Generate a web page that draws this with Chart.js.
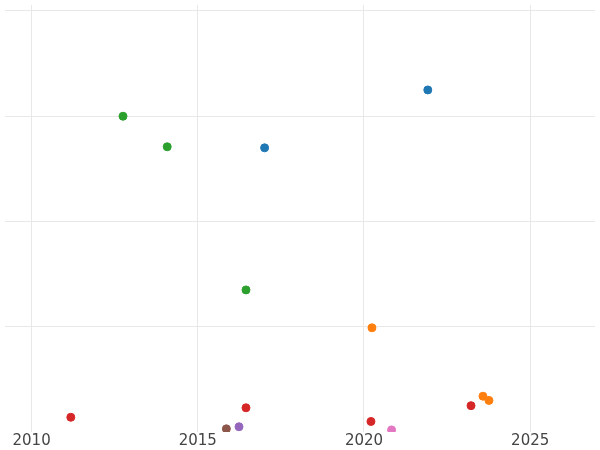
<!DOCTYPE html>
<html><head><meta charset="utf-8">
<script src="https://cdn.jsdelivr.net/npm/chart.js@4"></script>
<style>html,body{margin:0;padding:0;background:#fff}#w{width:600px;height:450px}</style>
</head><body><div id="w"><canvas id="c"></canvas></div>
<script>
const xTicks = [2010, 2015, 2020, 2025];
const blueX = [2021.92, 2017.01], blueY = [3.25, 2.70];
const greenX = [2012.75, 2014.08, 2016.45], greenY = [3.0, 2.71, 1.35];
const orangeX = [2020.24, 2023.58, 2023.76], orangeY = [0.99, 0.34, 0.30];
const redX = [2011.18, 2016.45, 2020.21, 2023.22], redY = [0.14, 0.23, 0.10, 0.25];
const brownX = [2015.86], brownY = [0.03];
const purpleX = [2016.24], purpleY = [0.05];
const pinkX = [2020.83], pinkY = [0.02];
const groups = [
  [blueX, blueY, '#1f77b4'], [greenX, greenY, '#2ca02c'], [orangeX, orangeY, '#ff7f0e'],
  [redX, redY, '#d62728'], [brownX, brownY, '#8c564b'], [purpleX, purpleY, '#9467bd'], [pinkX, pinkY, '#e377c2']
];
new Chart(document.getElementById('c'), {
  type: 'scatter',
  data: { datasets: groups.map(g => ({
    data: g[0].map((x, i) => ({x, y: g[1][i]})),
    backgroundColor: g[2], borderColor: g[2], pointRadius: 4, pointHoverRadius: 4
  })) },
  options: {
    responsive: true, maintainAspectRatio: false, animation: false,
    layout: { padding: { left: -5, right: -5, top: -5, bottom: 0 } },
    plugins: { legend: { display: false }, tooltip: { enabled: false } },
    scales: {
      x: { type: 'linear', min: 2009.2, max: 2026.95,
        afterBuildTicks: a => { a.ticks = xTicks.map(v => ({value: v})); },
        grid: { color: '#e8e8e8', drawTicks: false }, border: { display: false },
        ticks: { font: { family: 'DejaVu Sans', size: 15 }, color: '#444', padding: 0, callback: v => String(v) } },
      y: { min: 0, max: 4.057, display: true,
        afterBuildTicks: a => { a.ticks = [1,2,3,4].map(v => ({value: v})); },
        grid: { color: '#e8e8e8', drawTicks: false }, border: { display: false },
        ticks: { display: false } }
    }
  }
});
</script></body></html>
